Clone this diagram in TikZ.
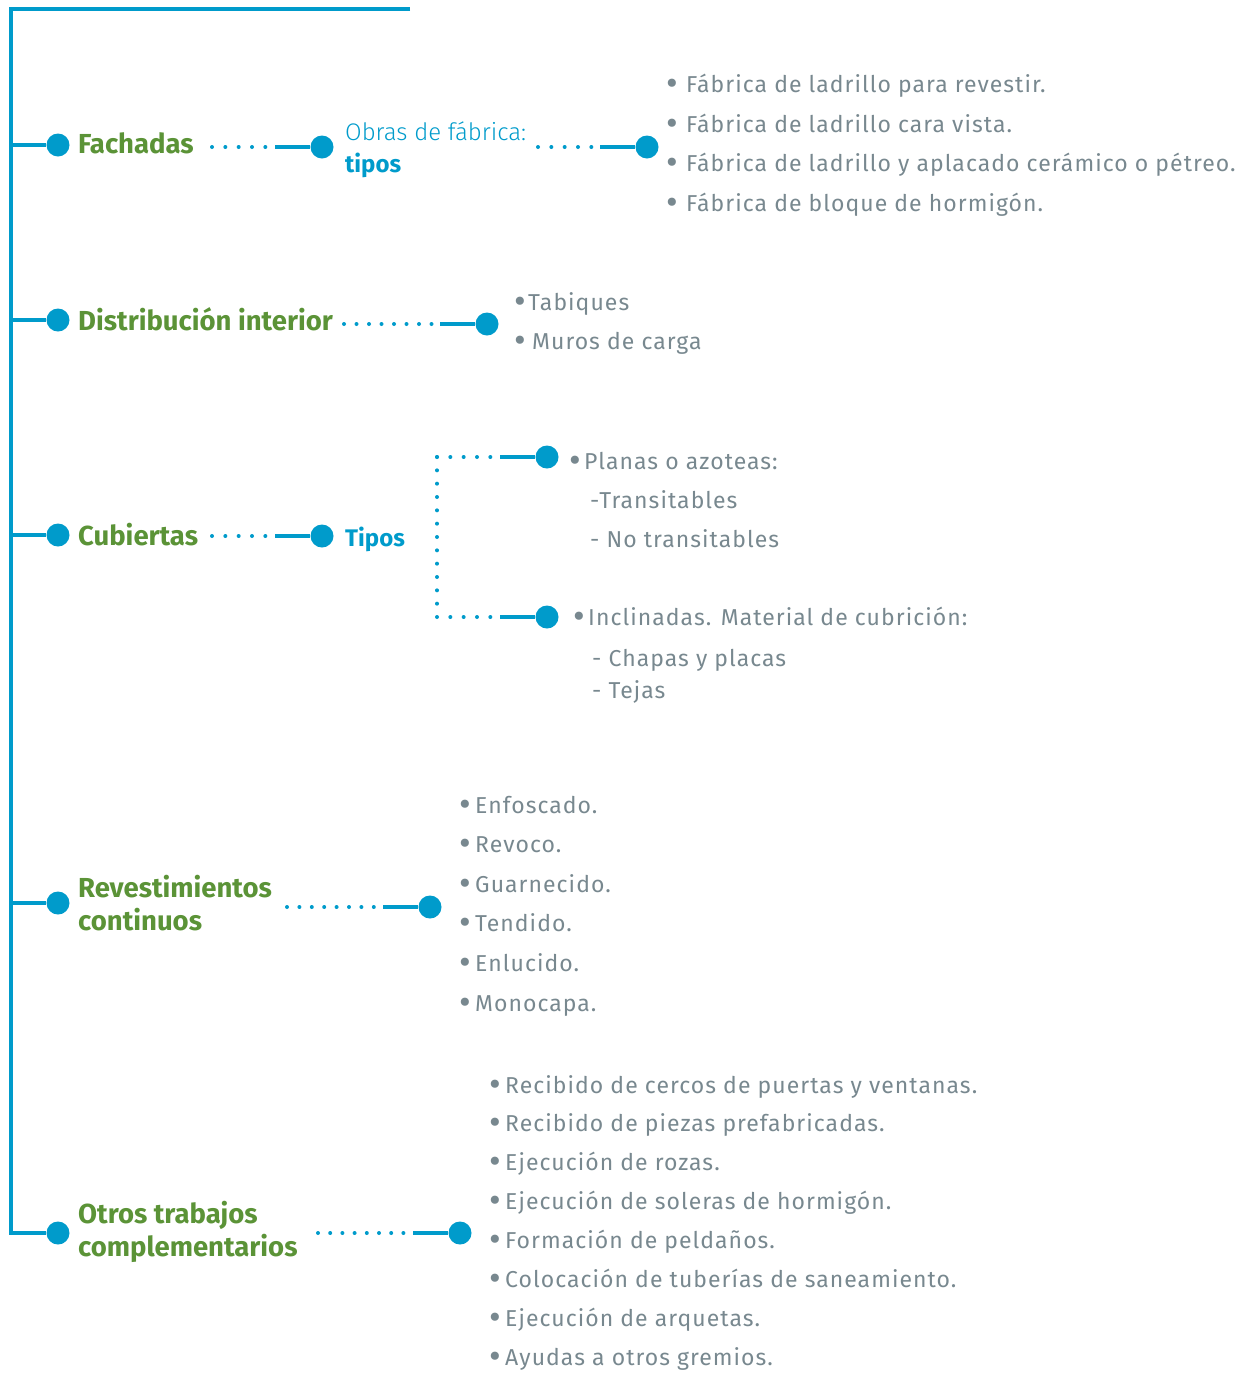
\documentclass[tikz,border=0pt]{standalone}
\usepackage{fontspec}
\setmainfont{Fira Sans}
\newfontfamily\lightfont{Fira Sans Light}
\newfontfamily\itemfont[LetterSpace=4.5]{Fira Sans}
\usepackage{tikz}
\usetikzlibrary{calc}
\definecolor{cblue}{RGB}{0,155,203}
\definecolor{cgreen}{RGB}{91,147,55}
\definecolor{cgray}{RGB}{120,136,143}
\newcommand{\bul}[1]{\makebox[#1][l]{\raisebox{-3pt}{\fontsize{36}{26}\selectfont •}}}

\begin{document}
\begin{tikzpicture}[x=1pt,y=-1pt,
  lbl/.style={anchor=base west,inner sep=0,cgreen,font=\fontsize{27.5}{33}\selectfont\bfseries},
  sub/.style={anchor=base west,inner sep=0,cblue,font=\fontsize{24}{30}\lightfont},
  subb/.style={anchor=base west,inner sep=0,cblue,font=\fontsize{24}{30}\selectfont\bfseries},
  item/.style={anchor=base west,inner sep=0,cgray,font=\fontsize{23}{26}\itemfont},
  bdot/.style={circle,fill=cblue,inner sep=0,minimum size=23},
  solidline/.style={cblue,line width=3.5},
  dotline/.style={cblue,line width=4,line cap=round,dash pattern=on 0pt off 13.333pt}]
\useasboundingbox (0,0) rectangle (1246,1377);
\coordinate (tr) at (410,9);
\coordinate (tl) at (11,9);
\coordinate (fa0) at (11,145);
\coordinate (da0) at (11,320);
\coordinate (ca0) at (11,535);
\coordinate (ra0) at (11,903);
\coordinate (oa0) at (11,1233);
\node [bdot] (fa) at (58,145) {};
\node [bdot] (da) at (58,320) {};
\node [bdot] (ca) at (58,535) {};
\node [bdot] (ra) at (58,903) {};
\node [bdot] (oa) at (58,1233) {};
\draw [solidline] (tr) -- (tl) -- (oa0) -- (oa);
\draw [solidline] (fa0) -- (fa);
\draw [solidline] (da0) -- (da);
\draw [solidline] (ca0) -- (ca);
\draw [solidline] (ra0) -- (ra);

\node [lbl] (fachadas) at (78,153) {Fachadas};
\coordinate (fa1) at (212,147);
\coordinate (fa2) at (275,147);
\node [bdot] (fb) at (322,147) {};
\draw [dotline] (fa1) -- (fa2);
\draw [solidline] (fa2) -- (fb);
\node [sub] (obras) at (345,140) {Obras de fábrica:};
\node [subb] (tipos) at (345,172) {tipos};
\coordinate (fb1) at (538,147);
\coordinate (fb2) at (600,147);
\node [bdot] (fc) at (647,147) {};
\draw [dotline] (fb1) -- (fb2);
\draw [solidline] (fb2) -- (fc);
\node [item] (f1) at (666,92.5) {\bul{20pt}Fábrica de ladrillo para revestir.};
\node [item] (f2) at (666,132) {\bul{20pt}Fábrica de ladrillo cara vista.};
\node [item] (f3) at (666,171.5) {\bul{20pt}Fábrica de ladrillo y aplacado cerámico o pétreo.};
\node [item] (f4) at (666,211) {\bul{20pt}Fábrica de bloque de hormigón.};

\node [lbl] (distrib) at (78,330) {Distribución interior};
\coordinate (da1) at (344,324);
\coordinate (da2) at (440,324);
\node [bdot] (db) at (487,324) {};
\draw [dotline,dash pattern=on 0pt off 12.5pt] (da1) -- (da2);
\draw [solidline] (da2) -- (db);
\node [item] (d1) at (514,310) {\bul{14pt}Tabiques};
\node [item] (d2) at (514,349) {\bul{18pt}Muros de carga};

\node [lbl] (cubiertas) at (78,545) {Cubiertas};
\coordinate (ca1) at (212,536);
\coordinate (ca2) at (275,536);
\node [bdot] (cb) at (322,536) {};
\draw [dotline] (ca1) -- (ca2);
\draw [solidline] (ca2) -- (cb);
\node [subb] (ctipos) at (345,546) {Tipos};
\coordinate (cq1) at (437,457);
\coordinate (cq2) at (437,617);
\coordinate (ce1) at (500,457);
\coordinate (ce2) at (500,617);
\node [bdot] (cc1) at (547,457) {};
\node [bdot] (cc2) at (547,617) {};
\draw [dotline] (cq1) -- (ce1);
\draw [dotline] (cq1) -- (cq2) -- (ce2);
\draw [solidline] (ce1) -- (cc1);
\draw [solidline] (ce2) -- (cc2);
\node [item] (c1) at (569,469) {\bul{15pt}Planas o azoteas:};
\node [item] (c2) at (590,508) {-Transitables};
\node [item] (c3) at (590,547) {- No transitables};
\node [item] (c4) at (573,625) {\bul{15pt}Inclinadas. Material de cubrición:};
\node [item] (c5) at (592,666) {- Chapas y placas};
\node [item] (c6) at (592,698) {- Tejas};

\node [lbl] (revest) at (78,897) {Revestimientos};
\node [lbl] (revest2) at (78,930) {continuos};
\coordinate (ra1) at (287,907);
\coordinate (ra2) at (383,907);
\node [bdot] (rb) at (430,907) {};
\draw [dotline,dash pattern=on 0pt off 12.4pt] (ra1) -- (ra2);
\draw [solidline] (ra2) -- (rb);
\node [item] (r1) at (459,813) {\bul{16pt}Enfoscado.};
\node [item] (r2) at (459,852.6) {\bul{16pt}Revoco.};
\node [item] (r3) at (459,892.2) {\bul{16pt}Guarnecido.};
\node [item] (r4) at (459,931.8) {\bul{16pt}Tendido.};
\node [item] (r5) at (459,971.4) {\bul{16pt}Enlucido.};
\node [item] (r6) at (459,1011) {\bul{16pt}Monocapa.};

\node [lbl] (otros) at (78,1223) {Otros trabajos};
\node [lbl] (otros2) at (78,1256) {complementarios};
\coordinate (oa1) at (318,1233);
\coordinate (oa2) at (413,1233);
\node [bdot] (ob) at (460,1233) {};
\draw [dotline,dash pattern=on 0pt off 12.2pt] (oa1) -- (oa2);
\draw [solidline] (oa2) -- (ob);
\node [item] (o1) at (489,1093) {\bul{16pt}Recibido de cercos de puertas y ventanas.};
\node [item] (o2) at (489,1131.9) {\bul{16pt}Recibido de piezas prefabricadas.};
\node [item] (o3) at (489,1170.8) {\bul{16pt}Ejecución de rozas.};
\node [item] (o4) at (489,1209.7) {\bul{16pt}Ejecución de soleras de hormigón.};
\node [item] (o5) at (489,1248.6) {\bul{16pt}Formación de peldaños.};
\node [item] (o6) at (489,1287.5) {\bul{16pt}Colocación de tuberías de saneamiento.};
\node [item] (o7) at (489,1326.4) {\bul{16pt}Ejecución de arquetas.};
\node [item] (o8) at (489,1365.3) {\bul{16pt}Ayudas a otros gremios.};
\end{tikzpicture}
\end{document}
